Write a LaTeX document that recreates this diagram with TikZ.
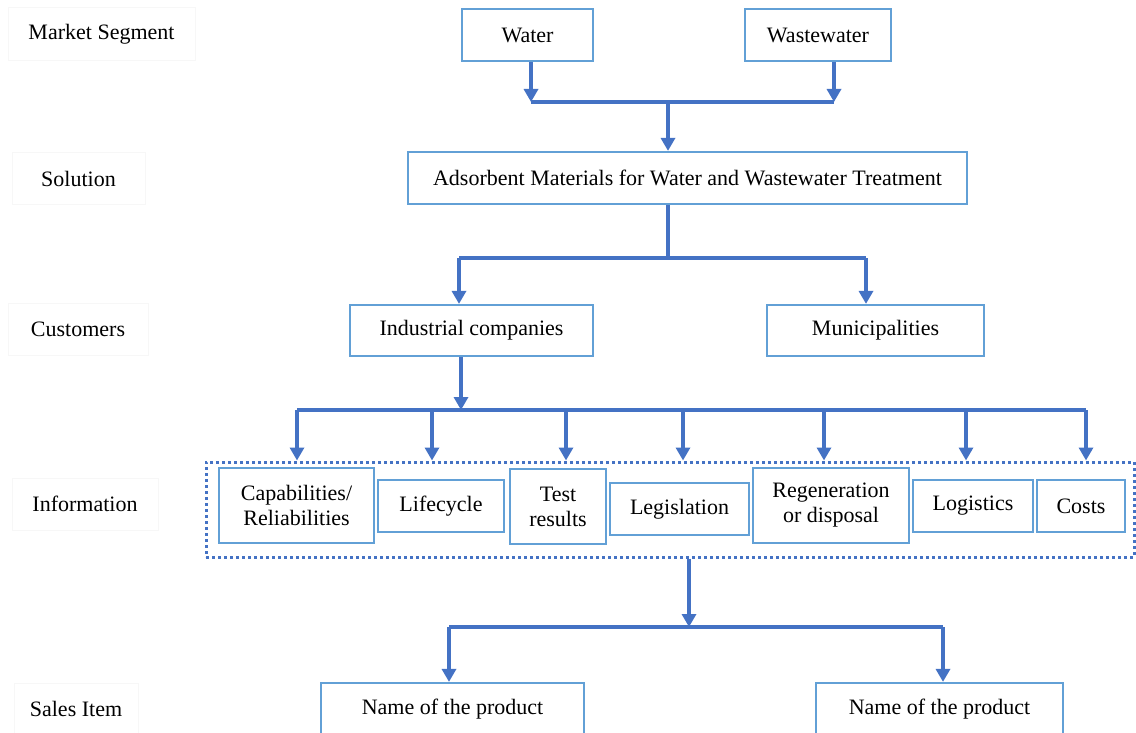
\documentclass[tikz,border=0pt]{standalone}
\usepackage{fontspec}
\setmainfont{Liberation Serif}
\usetikzlibrary{arrows.meta}
\definecolor{boxblue}{RGB}{98,160,214}
\definecolor{arrblue}{RGB}{68,114,196}
\definecolor{faint}{RGB}{247,247,247}
\begin{document}
\begin{tikzpicture}[x=1pt,y=-1pt,
  every node/.style={font=\fontsize{22}{25}\selectfont, inner sep=0pt, align=center},
  card/.style={draw=boxblue, line width=2.2pt, fill=white},
  tag/.style={draw=faint, line width=1pt},
  conn/.style={draw=arrblue, line width=3.6pt},
  arr/.style={conn, -{Triangle[width=14pt,length=13pt]}},
  group/.style={draw=arrblue, line width=3pt, dash pattern=on 3pt off 3pt}
]
\clip (0,0) rectangle (1136,733);

% row labels on the left
\node[tag, minimum width=187pt, minimum height=53pt] (lmarket) at (101.5,34.5) {Market Segment};
\node[tag, minimum width=133pt, minimum height=52pt] (lsol) at (78.5,179) {Solution};
\node[tag, minimum width=140pt, minimum height=52pt] (lcust) at (78,329) {Customers};
\node[tag, minimum width=146pt, minimum height=52pt] (linfo) at (85,504) {Information};
\node[tag, minimum width=124pt, minimum height=52pt] (lsales) at (76,709) {Sales Item};

% market segment
\node[card, minimum width=131pt, minimum height=52pt] (water) at (527.5,35) {Water};
\node[card, minimum width=146pt, minimum height=52pt] (waste) at (818,35) {Wastewater};

% solution
\node[card, minimum width=559pt, minimum height=52pt] (adsorb) at (687.5,178)
  {Adsorbent Materials for Water and Wastewater Treatment};

% customers
\node[card, minimum width=243pt, minimum height=51pt] (indus) at (471.5,330.5) {Industrial companies};
\node[card, minimum width=217pt, minimum height=51pt] (munic) at (875.5,330.5) {Municipalities};

% information group
\node[group, minimum width=928pt, minimum height=95pt] (info) at (670,509.5) {};
\node[card, minimum width=155pt, minimum height=75pt] (cap) at (296.5,505.5) {Capabilities/\\Reliabilities};
\node[card, minimum width=126pt, minimum height=52pt] (life) at (441,506) {Lifecycle};
\node[card, minimum width=96pt, minimum height=75pt] (test) at (558,506.5) {Test\\results};
\node[card, minimum width=139pt, minimum height=52pt] (legis) at (679.5,509) {Legislation};
\node[card, minimum width=156pt, minimum height=75pt] (regen) at (831,505.5) {Regeneration\\or disposal};
\node[card, minimum width=120pt, minimum height=52pt] (logis) at (973,506) {Logistics};
\node[card, minimum width=88pt, minimum height=52pt] (costs) at (1081,506) {Costs};

% sales items
\node[card, minimum width=263pt, minimum height=52pt] (prod1) at (452.5,709) {Name of the product};
\node[card, minimum width=247pt, minimum height=52pt] (prod2) at (939.5,709) {Name of the product};

% bus junctions
\coordinate (m1) at (531,102);
\coordinate (m2) at (834,102);
\coordinate (mm) at (668,102);
\coordinate (s0) at (668,258);
\coordinate (s1) at (459,258);
\coordinate (s2) at (866,258);
\coordinate (i0) at (461,410);
\coordinate (b1) at (297,410);
\coordinate (b2) at (432,410);
\coordinate (b3) at (566,410);
\coordinate (b4) at (683,410);
\coordinate (b5) at (824,410);
\coordinate (b6) at (966,410);
\coordinate (b7) at (1086,410);
\coordinate (p0) at (689,627);
\coordinate (p1) at (449,627);
\coordinate (p2) at (943,627);

% market segment -> solution
\draw[arr] (m1 |- water.south) -- (m1);
\draw[arr] (m2 |- waste.south) -- (m2);
\draw[conn] (m1) -- (m2);
\draw[arr] (mm) -- (mm |- adsorb.north);

% solution -> customers
\draw[conn] (s0 |- adsorb.south) -- (s0);
\draw[conn] (s1) -- (s2);
\draw[arr] (s1) -- (s1 |- indus.north);
\draw[arr] (s2) -- (s2 |- munic.north);

% customers -> information
\draw[arr] (i0 |- indus.south) -- (i0);
\draw[conn] (b1) -- (b7);
\foreach \b in {b1,b2,b3,b4,b5,b6,b7}
  \draw[arr] (\b) -- (\b |- info.north);

% information -> sales items
\draw[arr] (p0 |- info.south) -- (p0);
\draw[conn] (p1) -- (p2);
\draw[arr] (p1) -- (p1 |- prod1.north);
\draw[arr] (p2) -- (p2 |- prod2.north);
\end{tikzpicture}
\end{document}
